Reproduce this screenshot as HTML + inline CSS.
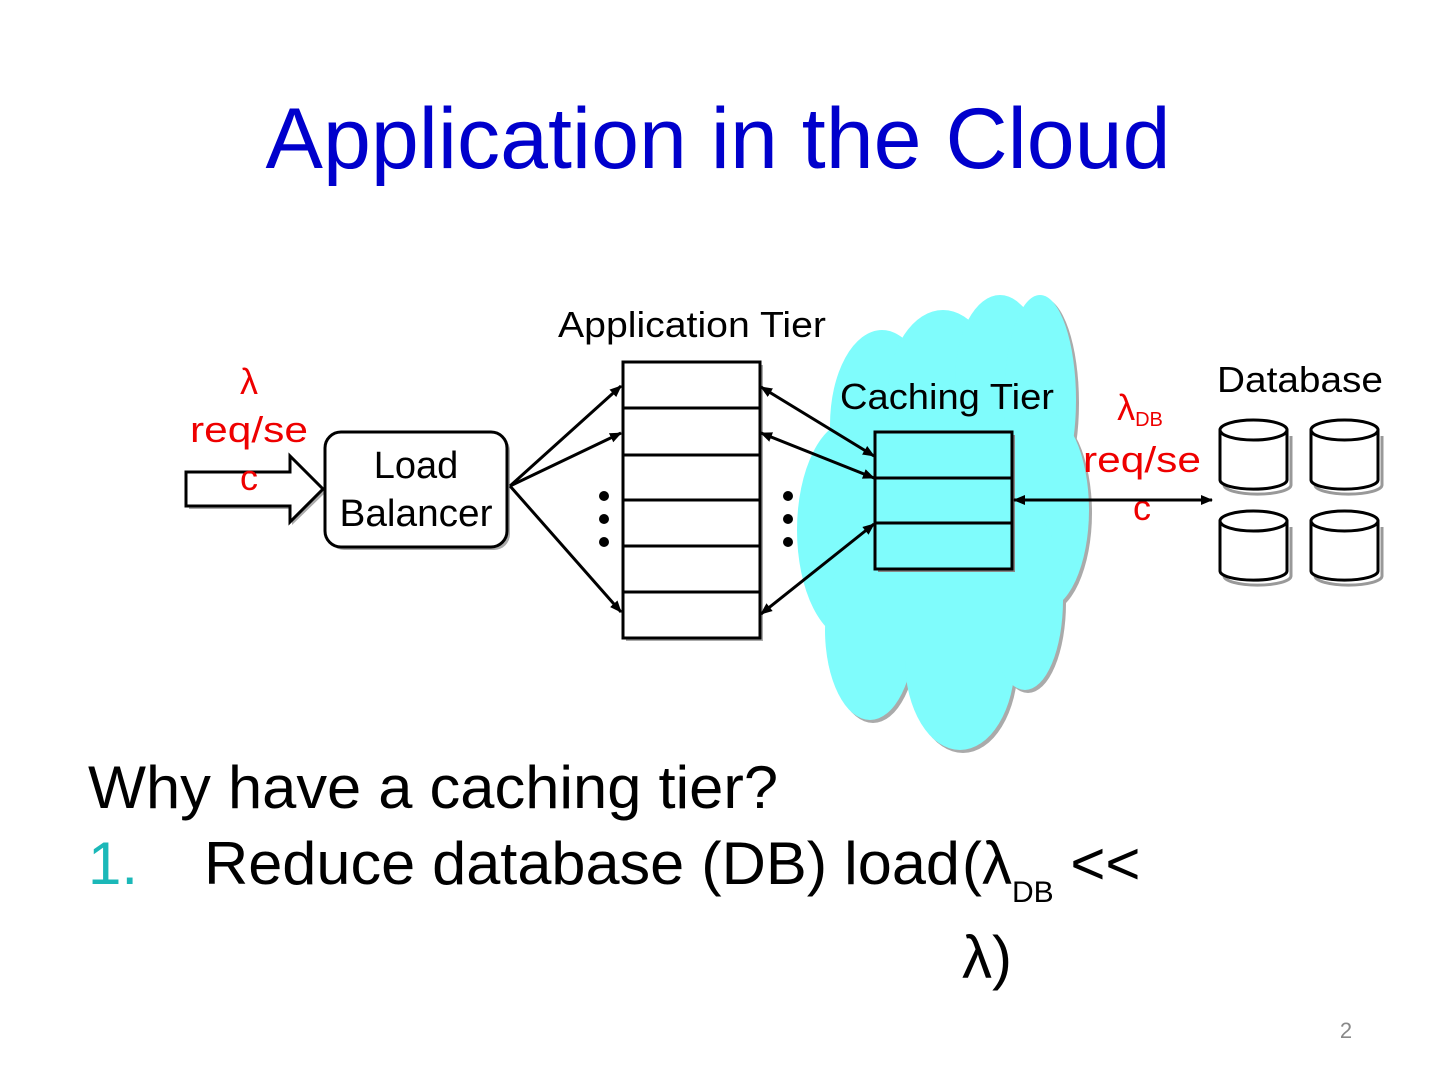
<!DOCTYPE html>
<html><head><meta charset="utf-8"><style>
body{margin:0;width:1440px;height:1080px;background:#fff;overflow:hidden;font-family:"Liberation Sans",sans-serif}
</style></head><body>
<svg width="1440" height="1080" xmlns="http://www.w3.org/2000/svg" font-family="Liberation Sans, sans-serif">
<defs>
<marker id="a" markerWidth="12" markerHeight="12" refX="11" refY="6" orient="auto" markerUnits="userSpaceOnUse"><path d="M0,1 L12,6 L0,11 Z" fill="#000"/></marker>
<marker id="b" markerWidth="12" markerHeight="12" refX="1" refY="6" orient="auto" markerUnits="userSpaceOnUse"><path d="M12,1 L0,6 L12,11 Z" fill="#000"/></marker>
</defs>
<text x="718" y="168" text-anchor="middle" font-size="86" fill="#0000cc" textLength="905" lengthAdjust="spacingAndGlyphs">Application in the Cloud</text>
<!-- cloud -->
<g fill="#aaa" transform="translate(3,3)">
<ellipse cx="882" cy="425" rx="52" ry="95"/><ellipse cx="943" cy="395" rx="55" ry="85"/><ellipse cx="1000" cy="380" rx="45" ry="85"/><ellipse cx="1040" cy="400" rx="36" ry="105"/>
<ellipse cx="852" cy="530" rx="55" ry="110"/><ellipse cx="1043" cy="510" rx="46" ry="100"/><ellipse cx="870" cy="630" rx="45" ry="90"/><ellipse cx="960" cy="660" rx="55" ry="90"/><ellipse cx="1025" cy="600" rx="38" ry="90"/>
</g>
<g fill="#7ffcfc">
<ellipse cx="882" cy="425" rx="52" ry="95"/><ellipse cx="943" cy="395" rx="55" ry="85"/><ellipse cx="1000" cy="380" rx="45" ry="85"/><ellipse cx="1040" cy="400" rx="36" ry="105"/>
<ellipse cx="852" cy="530" rx="55" ry="110"/><ellipse cx="1043" cy="510" rx="46" ry="100"/><ellipse cx="870" cy="630" rx="45" ry="90"/><ellipse cx="960" cy="660" rx="55" ry="90"/><ellipse cx="1025" cy="600" rx="38" ry="90"/>
<rect x="860" y="420" width="170" height="240"/>
</g>
<text x="692" y="337" text-anchor="middle" font-size="36" textLength="268" lengthAdjust="spacingAndGlyphs">Application Tier</text>
<text x="947" y="409" text-anchor="middle" font-size="36" textLength="214" lengthAdjust="spacingAndGlyphs">Caching Tier</text>
<text x="1300" y="392" text-anchor="middle" font-size="36" textLength="166" lengthAdjust="spacingAndGlyphs">Database</text>
<!-- input arrow -->
<path d="M189,475 H292 V459 L326,492 L292,525 V509 H189 Z" fill="#aaa"/>
<path d="M186,472 H290 V456 L323,489 L290,522 V506 H186 Z" fill="#fff" stroke="#000" stroke-width="3"/>
<g fill="#ee0000" font-size="36" text-anchor="middle">
<text x="249" y="394">λ</text><text x="249" y="442" textLength="118" lengthAdjust="spacingAndGlyphs">req/se</text><text x="249" y="490">c</text>
<text x="1140" y="420">λ<tspan font-size="20" dy="6">DB</tspan></text><text x="1142" y="472" textLength="118" lengthAdjust="spacingAndGlyphs">req/se</text><text x="1142" y="520">c</text>
</g>
<rect x="328" y="435" width="182" height="115" rx="16" fill="#aaa"/>
<rect x="325" y="432" width="182" height="115" rx="16" fill="#fff" stroke="#000" stroke-width="3"/>
<text x="416" y="478" text-anchor="middle" font-size="38">Load</text>
<text x="416" y="526" text-anchor="middle" font-size="38" textLength="153" lengthAdjust="spacingAndGlyphs">Balancer</text>
<!-- app tier -->
<rect x="626" y="365" width="137" height="276" fill="#aaa"/>
<rect x="623" y="362" width="137" height="276" fill="#fff" stroke="#000" stroke-width="3"/>
<g stroke="#000" stroke-width="3"><line x1="623" y1="408" x2="760" y2="408"/><line x1="623" y1="455" x2="760" y2="455"/><line x1="623" y1="500" x2="760" y2="500"/><line x1="623" y1="546" x2="760" y2="546"/><line x1="623" y1="592" x2="760" y2="592"/></g>
<!-- cache -->
<rect x="878" y="435" width="137" height="137" fill="#888"/>
<rect x="875" y="432" width="137" height="137" fill="#7ffcfc" stroke="#000" stroke-width="3"/>
<g stroke="#000" stroke-width="3"><line x1="875" y1="478" x2="1012" y2="478"/><line x1="875" y1="523" x2="1012" y2="523"/></g>
<!-- arrows -->
<g stroke="#000" stroke-width="3" fill="none">
<line x1="510" y1="486" x2="621" y2="386" marker-end="url(#a)"/>
<line x1="510" y1="486" x2="621" y2="433" marker-end="url(#a)"/>
<line x1="510" y1="486" x2="621" y2="612" marker-end="url(#a)"/>
<line x1="874" y1="456" x2="761" y2="387" marker-end="url(#a)" marker-start="url(#b)"/>
<line x1="874" y1="478" x2="761" y2="433" marker-end="url(#a)" marker-start="url(#b)"/>
<line x1="874" y1="524" x2="761" y2="614" marker-end="url(#a)" marker-start="url(#b)"/>
<line x1="1014" y1="500" x2="1212" y2="500" marker-end="url(#a)" marker-start="url(#b)"/>
</g>
<g fill="#000"><circle cx="604" cy="496" r="5"/><circle cx="604" cy="519" r="5"/><circle cx="604" cy="542" r="5"/><circle cx="788" cy="496" r="5"/><circle cx="788" cy="519" r="5"/><circle cx="788" cy="542" r="5"/></g>
<!-- cylinders -->
<g id="cyl" fill="#fff" stroke="#000" stroke-width="3">
<path d="M1222,433 V482 A33,9 0 0 0 1289,482 V433" stroke="#999" transform="translate(2,3)"/>
<path d="M1220,430 V480 A33,9 0 0 0 1287,480 V430 A33,9 0 0 0 1220,430 Z"/>
<ellipse cx="1253.5" cy="430" rx="33.5" ry="10"/>
</g>
<use href="#cyl" x="91"/><use href="#cyl" y="91"/><use href="#cyl" x="91" y="91"/>
<!-- bottom text -->
<text x="88" y="808" font-size="60" textLength="690" lengthAdjust="spacingAndGlyphs">Why have a caching tier?</text>
<text x="88" y="884" font-size="60" fill="#1bb8b8">1.</text>
<text x="204" y="884" font-size="60" textLength="756" lengthAdjust="spacingAndGlyphs">Reduce database (DB) load</text>
<text x="962" y="884" font-size="60">(λ<tspan font-size="30" dy="18">DB</tspan><tspan dy="-18"> &lt;&lt;</tspan></text>
<text x="962" y="978" font-size="60">λ)</text>
<text x="1346" y="1038" font-size="22" fill="#888" text-anchor="middle">2</text>
</svg>
</body></html>
